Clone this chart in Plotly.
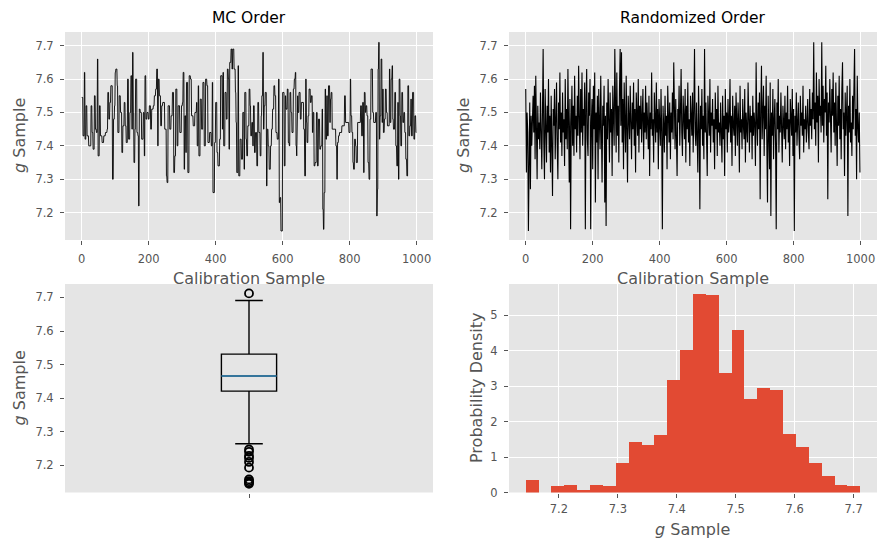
import numpy as np
import plotly.graph_objects as go

# ---------------- data ----------------
# MC-order chain: sample index where the value changes, and the new value
mc_change_idx = [
    0, 4, 8, 10, 13, 16, 21, 28, 31, 34, 38, 41, 44, 47, 49, 53, 56, 61, 66, 71,
    76, 78, 81, 84, 87, 92, 95, 98, 100, 102, 106, 108, 112, 116, 120, 123, 127, 130, 133, 137,
    140, 144, 147, 150, 152, 154, 156, 159, 161, 165, 168, 170, 172, 175, 179, 184, 187, 189, 192, 195,
    199, 202, 206, 209, 214, 217, 221, 224, 227, 229, 232, 236, 239, 242,
    248, 253, 255, 258, 263, 267, 271, 275, 278, 281, 285, 288, 293, 298, 301, 303, 306, 308, 311, 313,
    317, 321, 325, 328, 333, 338, 343, 345, 348, 350, 354, 358, 362, 366, 370, 374, 377, 382, 387, 390,
    392, 397, 400, 404, 407, 412, 415, 420, 422, 424, 428, 432, 435, 438, 440, 442, 446, 449, 451, 455,
    459, 461, 463, 467, 469, 473, 477, 481, 485, 487, 491,
    493, 496, 500, 503, 505, 508, 511, 513, 516, 519, 523, 526, 529, 533, 536, 538, 541, 543, 545, 548,
    552, 554, 557, 560, 564, 567, 570, 574, 577, 580, 584, 588, 590, 592, 595, 600, 605, 608, 610, 614,
    617, 620, 622, 625, 628, 632, 635, 638, 640, 642, 643, 646, 649, 653, 656, 663, 666, 669, 671, 673,
    676, 679, 683, 686, 689, 691, 694, 697, 701, 704, 707, 711, 714, 718, 720, 722, 724, 727, 729, 732,
    734, 737, 741,
    743, 745, 748, 759, 762, 764, 767, 770, 777, 785, 788, 798, 802, 804, 807, 810, 812, 815, 818, 820,
    824, 833, 836, 839, 842, 844, 847, 849, 852, 855, 858, 861, 864, 869, 872, 878, 881, 883, 885, 887,
    889, 891, 894, 897, 899, 901, 904, 907, 910, 913, 919, 921, 924, 927, 929, 931, 935, 938, 941, 944,
    946, 948, 951, 953, 956, 959, 962, 965, 968, 971, 974, 977, 980, 983, 985, 988, 992, 995, 998,
]
mc_change_val = [
    7.545, 7.43, 7.62, 7.42, 7.52, 7.43, 7.40, 7.52, 7.44, 7.39, 7.55, 7.45, 7.44, 7.66, 7.37, 7.52, 7.43, 7.41, 7.43, 7.44,
    7.45, 7.56, 7.48, 7.53, 7.58, 7.30, 7.48, 7.52, 7.62, 7.63, 7.58, 7.44, 7.55, 7.50, 7.38, 7.46, 7.53, 7.46, 7.41, 7.60,
    7.42, 7.50, 7.61, 7.45, 7.68, 7.50, 7.35, 7.45, 7.60, 7.44, 7.43, 7.22, 7.51, 7.50, 7.42, 7.50, 7.37, 7.61, 7.48, 7.50,
    7.48, 7.52, 7.45, 7.51, 7.52, 7.55, 7.57, 7.63, 7.40, 7.60, 7.55, 7.46, 7.52, 7.53,
    7.45, 7.31, 7.29, 7.52, 7.45, 7.49, 7.56, 7.32, 7.37, 7.57, 7.40, 7.52, 7.44, 7.52, 7.53, 7.62, 7.33, 7.49, 7.38, 7.59,
    7.32, 7.61, 7.60, 7.49, 7.46, 7.50, 7.53, 7.40, 7.58, 7.37, 7.54, 7.45, 7.59, 7.40, 7.60, 7.58, 7.41, 7.44, 7.40, 7.59,
    7.26, 7.41, 7.53, 7.38, 7.34, 7.42, 7.61, 7.45, 7.62, 7.40, 7.56, 7.48, 7.63, 7.60, 7.39, 7.65, 7.69, 7.63, 7.69, 7.63,
    7.56, 7.47, 7.32, 7.64, 7.31, 7.42, 7.36, 7.50, 7.33, 7.56, 7.42,
    7.37, 7.46, 7.57, 7.52, 7.43, 7.47, 7.40, 7.52, 7.38, 7.44, 7.34, 7.53, 7.44, 7.37, 7.49, 7.55, 7.68, 7.45, 7.52, 7.56,
    7.28, 7.45, 7.40, 7.33, 7.40, 7.45, 7.51, 7.58, 7.55, 7.44, 7.42, 7.60, 7.23, 7.245, 7.145, 7.56, 7.34, 7.55, 7.51, 7.57,
    7.41, 7.40, 7.56, 7.50, 7.44, 7.57, 7.60, 7.62, 7.40, 7.37, 7.55, 7.50, 7.56, 7.48, 7.53, 7.45, 7.31, 7.60, 7.47, 7.41,
    7.49, 7.57, 7.53, 7.55, 7.44, 7.50, 7.34, 7.35, 7.50, 7.34, 7.48, 7.39, 7.40, 7.51, 7.21, 7.15, 7.26, 7.57, 7.42, 7.55,
    7.43, 7.58, 7.47,
    7.54, 7.56, 7.45, 7.40, 7.30, 7.41, 7.43, 7.44, 7.46, 7.55, 7.47, 7.44, 7.60, 7.49, 7.44, 7.35, 7.33, 7.42, 7.40, 7.35,
    7.47, 7.52, 7.43, 7.53, 7.32, 7.56, 7.50, 7.52, 7.49, 7.35, 7.30, 7.48, 7.63, 7.50, 7.47, 7.50, 7.19, 7.27, 7.63, 7.71,
    7.42, 7.49, 7.66, 7.47, 7.57, 7.44, 7.48, 7.57, 7.50, 7.46, 7.63, 7.47, 7.60, 7.64, 7.48, 7.45, 7.56, 7.40, 7.34, 7.53,
    7.30, 7.60, 7.49, 7.40, 7.56, 7.47, 7.50, 7.44, 7.36, 7.31, 7.58, 7.43, 7.46, 7.54, 7.43, 7.56, 7.42, 7.49, 7.44,
]
n_samples = 1000

# Randomized-order trace, read at every second sample
rand_step = 2
rand_vals = [
    7.57, 7.32, 7.50, 7.44, 7.145, 7.42, 7.53, 7.27, 7.49, 7.40, 7.48, 7.55, 7.44, 7.58, 7.36, 7.61, 7.45, 7.30, 7.52, 7.42,
    7.47, 7.39, 7.56, 7.43, 7.33, 7.50, 7.69, 7.41, 7.30, 7.57, 7.46, 7.35, 7.52, 7.44, 7.60, 7.38, 7.49, 7.32, 7.55, 7.43,
    7.25, 7.51, 7.46, 7.57, 7.36, 7.48, 7.59, 7.40, 7.30, 7.53, 7.45, 7.62, 7.41, 7.50, 7.37, 7.56, 7.44, 7.48, 7.34, 7.60,
    7.42, 7.51, 7.39, 7.63, 7.46, 7.29, 7.54, 7.15, 7.47, 7.58, 7.40, 7.52, 7.37, 7.61, 7.45, 7.49, 7.38, 7.55, 7.43, 7.64,
    7.48, 7.36, 7.57, 7.44, 7.62, 7.40, 7.51, 7.46, 7.59, 7.15, 7.53, 7.63, 7.42, 7.37, 7.56, 7.49, 7.60, 7.15, 7.47, 7.54,
    7.33, 7.58, 7.45, 7.62, 7.23, 7.50, 7.41, 7.55, 7.30, 7.57, 7.47, 7.39, 7.61, 7.44, 7.29, 7.52, 7.46, 7.58, 7.23, 7.49,
    7.16, 7.53, 7.42, 7.60, 7.47, 7.35, 7.56, 7.44, 7.51, 7.31, 7.58, 7.45, 7.40, 7.69, 7.48, 7.38, 7.62, 7.43, 7.52, 7.35,
    7.57, 7.69, 7.46, 7.68, 7.41, 7.54, 7.33, 7.59, 7.47, 7.38, 7.61, 7.44, 7.29, 7.55, 7.50, 7.42, 7.58, 7.46, 7.36, 7.53,
    7.45, 7.59, 7.40, 7.51, 7.32, 7.56, 7.47, 7.43, 7.60, 7.38, 7.52, 7.45, 7.55, 7.41, 7.49, 7.57, 7.36, 7.50, 7.44, 7.58,
    7.42, 7.53, 7.47, 7.39, 7.55, 7.31, 7.50, 7.45, 7.62, 7.43, 7.48, 7.35, 7.56, 7.46, 7.41, 7.59, 7.44, 7.51, 7.33, 7.54,
    7.47, 7.40, 7.57, 7.44, 7.15, 7.52, 7.46, 7.38, 7.55, 7.43, 7.49, 7.33, 7.58, 7.45, 7.41, 7.53, 7.36, 7.50, 7.44, 7.56,
    7.42, 7.65, 7.48, 7.39, 7.54, 7.45, 7.31, 7.51, 7.47, 7.58, 7.40, 7.50, 7.63, 7.44, 7.37, 7.55, 7.46, 7.42, 7.57, 7.35,
    7.52, 7.45, 7.59, 7.41, 7.48, 7.34, 7.55, 7.47, 7.43, 7.56, 7.38, 7.50, 7.69, 7.44, 7.40, 7.53, 7.46, 7.32, 7.58, 7.47,
    7.21, 7.52, 7.45, 7.57, 7.40, 7.49, 7.36, 7.69, 7.44, 7.53, 7.42, 7.31, 7.55, 7.47, 7.43, 7.60, 7.38, 7.50, 7.46, 7.54,
    7.41, 7.48, 7.33, 7.56, 7.45, 7.51, 7.37, 7.58, 7.44, 7.47, 7.40, 7.53, 7.46, 7.35, 7.55, 7.42, 7.49, 7.31, 7.57, 7.45,
    7.50, 7.38, 7.54, 7.44, 7.47, 7.60, 7.41, 7.49, 7.34, 7.55, 7.46, 7.43, 7.52, 7.37, 7.56, 7.45, 7.40, 7.53, 7.47, 7.32,
    7.58, 7.44, 7.48, 7.39, 7.54, 7.46, 7.42, 7.57, 7.35, 7.50, 7.45, 7.41, 7.59, 7.47, 7.38, 7.52, 7.44, 7.49, 7.36, 7.55,
    7.43, 7.50, 7.46, 7.34, 7.65, 7.47, 7.40, 7.53, 7.45, 7.56, 7.24, 7.51, 7.64, 7.42, 7.48, 7.58, 7.37, 7.52, 7.45, 7.61,
    7.40, 7.23, 7.55, 7.46, 7.33, 7.59, 7.19, 7.50, 7.43, 7.57, 7.36, 7.48, 7.54, 7.41, 7.15, 7.53, 7.45, 7.60, 7.38, 7.49,
    7.44, 7.56, 7.47, 7.35, 7.52, 7.46, 7.42, 7.55, 7.39, 7.50, 7.45, 7.58, 7.41, 7.48, 7.34, 7.54, 7.46, 7.43, 7.57, 7.37,
    7.51, 7.145, 7.49, 7.44, 7.56, 7.40, 7.47, 7.53, 7.42, 7.36, 7.55, 7.46, 7.50, 7.43, 7.58, 7.38, 7.48, 7.45, 7.52, 7.41,
    7.47, 7.54, 7.44, 7.39, 7.57, 7.46, 7.51, 7.42, 7.56, 7.48, 7.71, 7.45, 7.53, 7.40, 7.62, 7.47, 7.55, 7.35, 7.60, 7.49,
    7.52, 7.44, 7.71, 7.46, 7.58, 7.41, 7.54, 7.50, 7.64, 7.43, 7.56, 7.24, 7.53, 7.47, 7.60, 7.45, 7.38, 7.57, 7.49, 7.62,
    7.44, 7.53, 7.40, 7.59, 7.47, 7.34, 7.55, 7.46, 7.61, 7.42, 7.51, 7.36, 7.57, 7.65, 7.45, 7.50, 7.31, 7.56, 7.43, 7.48,
    7.58, 7.19, 7.52, 7.44, 7.60, 7.41, 7.47, 7.37, 7.55, 7.45, 7.62, 7.69, 7.43, 7.51, 7.30, 7.61, 7.46, 7.41, 7.50, 7.32,
]

# Box plot summary
box_q1 = 7.421
box_median = 7.466
box_q3 = 7.531
box_whisker_lo = 7.264
box_whisker_hi = 7.691
box_fliers = [7.712, 7.247, 7.240, 7.228, 7.222, 7.210, 7.193, 7.158, 7.153, 7.149, 7.145]

# Histogram (density)
hist_lo = 7.1437
hist_hi = 7.7113
hist_density = [0.355, 0.0, 0.187, 0.215, 0.075, 0.215, 0.187, 0.832, 1.42, 1.336, 1.617, 3.159, 4.028,
                5.598, 5.570, 3.383, 4.589, 2.626, 2.935, 2.879, 1.645, 1.280, 0.832, 0.467, 0.215, 0.187]

g_ticks = [7.2, 7.3, 7.4, 7.5, 7.6, 7.7]
sample_ticks = [0, 200, 400, 600, 800, 1000]
density_ticks = [0, 1, 2, 3, 4, 5]

# ---------------- build ----------------
runs = np.diff(mc_change_idx + [n_samples])
mc_trace = np.repeat(mc_change_val, runs)
rand_x = np.arange(0, n_samples, rand_step)[:len(rand_vals)]

edges = np.linspace(hist_lo, hist_hi, len(hist_density) + 1)
centers = (edges[:-1] + edges[1:]) / 2
bin_w = edges[1] - edges[0]

BG = "#E5E5E5"
TXT = "#555555"
RED = "#E24A33"
BLUE = "#348ABD"
FONT = "DejaVu Sans"

fig = go.Figure()
fig.add_trace(go.Scatter(x=np.arange(n_samples), y=mc_trace, mode="lines",
                         line=dict(color="black", width=0.9), xaxis="x", yaxis="y"))
fig.add_trace(go.Scatter(x=rand_x, y=rand_vals, mode="lines",
                         line=dict(color="black", width=1.1), xaxis="x2", yaxis="y2"))
box_w = 0.15
fig.add_trace(go.Box(x=[1], q1=[box_q1], median=[box_median], q3=[box_q3],
                     lowerfence=[box_whisker_lo], upperfence=[box_whisker_hi],
                     width=box_w, whiskerwidth=0.5, boxpoints=False,
                     fillcolor="rgba(0,0,0,0)", line=dict(color="black", width=1.4),
                     xaxis="x3", yaxis="y3"))
fig.add_trace(go.Scatter(x=[1 - box_w / 2, 1 + box_w / 2], y=[box_median, box_median], mode="lines",
                         line=dict(color=BLUE, width=1.5), xaxis="x3", yaxis="y3"))
fig.add_trace(go.Scatter(x=[1] * len(box_fliers), y=box_fliers, mode="markers",
                         marker=dict(symbol="circle-open", size=8, color="black", line=dict(width=1.8)),
                         xaxis="x3", yaxis="y3"))
fig.add_trace(go.Bar(x=centers, y=hist_density, width=bin_w, marker=dict(color=RED, line=dict(width=0)),
                     xaxis="x4", yaxis="y4"))

W, H = 889, 549
colL = [65 / W, 433 / W]
colR = [509 / W, 877 / W]
rowT = [1 - 240 / H, 1 - 32 / H]
rowB = [1 - 492.5 / H, 1 - 284 / H]

def ax(domain, rng, tickvals, ticktext=None, anchor=None, grid=True, standoff=4):
    d = dict(domain=domain, range=rng, tickmode="array", tickvals=tickvals,
             showgrid=grid, gridcolor="white", gridwidth=1.2, zeroline=False,
             ticks="outside", ticklen=4, tickwidth=1, tickcolor=TXT,
             tickfont=dict(family=FONT, size=11.5, color=TXT), showline=False,
             ticklabelstandoff=standoff, anchor=anchor, fixedrange=True, automargin=False)
    if ticktext is not None:
        d["ticktext"] = ticktext
    return d

g_text = [f"{v:.1f}" for v in g_ticks]
xr = [-49.95, 1048.95]
yr = [7.118, 7.741]

fig.update_layout(
    width=W, height=H, margin=dict(l=0, r=0, t=0, b=0, autoexpand=False),
    paper_bgcolor="white", plot_bgcolor=BG, showlegend=False, bargap=0,
    font=dict(family=FONT, color=TXT),
    xaxis=ax(colL, xr, sample_ticks, anchor="y", standoff=4),
    yaxis=ax(rowT, yr, g_ticks, g_text, anchor="x"),
    xaxis2=ax(colR, xr, sample_ticks, anchor="y2", standoff=4),
    yaxis2=ax(rowT, yr, g_ticks, g_text, anchor="x2"),
    xaxis3=ax(colL, [0.5, 1.5], [1], [""], anchor="y3", grid=False),
    yaxis3=ax(rowB, [7.119, 7.740], g_ticks, g_text, anchor="x3", grid=False),
    xaxis4=ax(colR, [hist_lo - 0.05 * (hist_hi - hist_lo), hist_hi + 0.05 * (hist_hi - hist_lo)],
              g_ticks, g_text, anchor="y4", standoff=2),
    yaxis4=ax(rowB, [0, 1.05 * max(hist_density)], density_ticks, anchor="x4"),
)

def ann(text, x, y, size, color=TXT, angle=0):
    fig.add_annotation(text=text, x=x, y=y, xref="paper", yref="paper", showarrow=False,
                       xanchor="center", yanchor="middle", textangle=angle,
                       font=dict(family=FONT, size=size, color=color))

ann("MC Order", (65 + 433) / 2 / W, 1 - 18 / H, 15.5, "black")
ann("Randomized Order", (509 + 877) / 2 / W, 1 - 18 / H, 15.5, "black")
ann("Calibration Sample", (65 + 433) / 2 / W, 1 - 278 / H, 16)
ann("Calibration Sample", (509 + 877) / 2 / W, 1 - 278 / H, 16)
ann("<i>g</i> Sample", 19 / W, 1 - 136 / H, 16, angle=-90)
ann("<i>g</i> Sample", 463 / W, 1 - 136 / H, 16, angle=-90)
ann("<i>g</i> Sample", 18.5 / W, 1 - 388 / H, 16, angle=-90)
ann("Probability Density", 476 / W, 1 - 388 / H, 16, angle=-90)
ann("<i>g</i> Sample", 692 / W, 1 - 529 / H, 16)

fig.write_html("out.html")
